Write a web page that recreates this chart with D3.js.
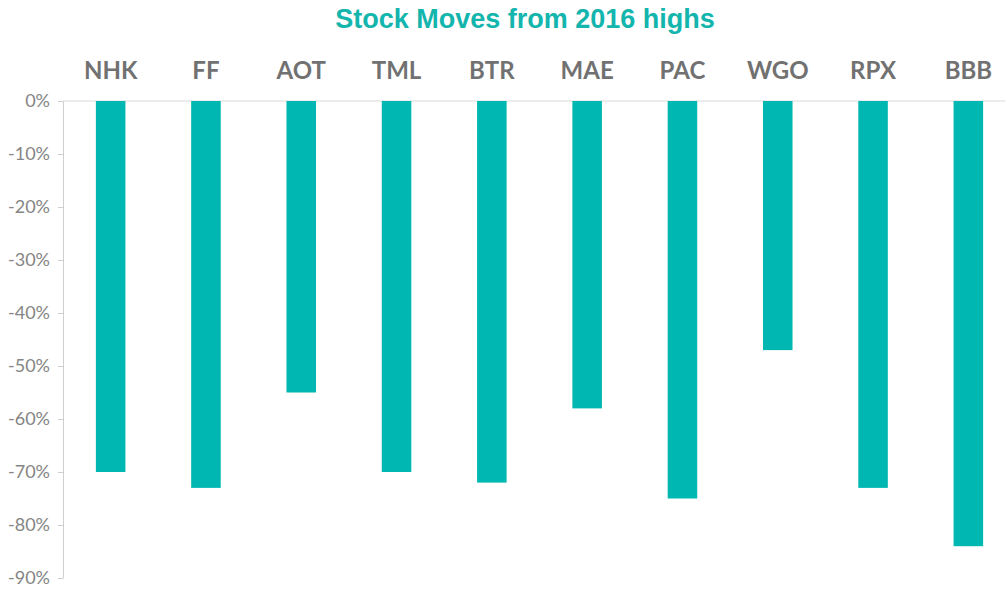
<!DOCTYPE html>
<html lang="en">
<head>
<meta charset="UTF-8">
<title>Stock Moves from 2016 highs</title>
<style>
body{margin:0;background:#fff;}
.chart text{font-family:Lato,"Open Sans",sans-serif;}
</style>
</head>
<body>
<div class="chart"></div>
<script src="https://d3js.org/d3.v7.min.js"></script>
<script>
var tickers = ['NHK','FF','AOT','TML','BTR','MAE','PAC','WGO','RPX','BBB'];
var moves = [-70,-73,-55,-70,-72,-58,-75,-47,-73,-84];
var yTicks = [0,-10,-20,-30,-40,-50,-60,-70,-80,-90];

var W = 1005, H = 589;
var svg = d3.select('.chart').append('svg')
	.attr('width',W).attr('height',H);

var x = d3.scaleBand()
	.domain(tickers)
	.range([63,1016])
	.paddingInner(0.69)
	.paddingOuter(0.345);

var y = d3.scaleLinear()
	.domain([0,-90])
	.range([101,578]);

// title
svg.append('text')
	.attr('x',525).attr('y',28)
	.attr('text-anchor','middle')
	.style('font-family','"Liberation Sans Narrow","Liberation Sans",Arial,sans-serif')
	.style('font-weight','bold')
	.style('font-size','27px')
	.style('fill','#13b5ad')
	.text('Stock Moves from 2016 highs');

// zero line
svg.append('line')
	.attr('x1',63).attr('x2',W)
	.attr('y1',y(0)).attr('y2',y(0))
	.style('stroke','#d9d9d9');

// y axis
var yAxis = d3.axisLeft(y)
	.tickValues(yTicks)
	.tickFormat(d => d + '%')
	.tickSizeInner(5)
	.tickSizeOuter(0)
	.tickPadding(8);
var ga = svg.append('g')
	.attr('transform','translate(63,0)')
	.call(yAxis);
ga.select('.domain').style('stroke','#cfcfcf');
ga.selectAll('.tick line').style('stroke','#cfcfcf');
ga.selectAll('.tick text')
	.style('font-family','Lato,sans-serif')
	.style('font-size','18px')
	.style('fill','#858585');

// bars
svg.selectAll('.bar')
	.data(moves)
	.enter().append('rect')
	.attr('class','bar')
	.attr('x',(d,i) => x(tickers[i]))
	.attr('width',x.bandwidth())
	.attr('y',y(0))
	.attr('height',d => y(d) - y(0))
	.style('fill','#00b8b1');

// category labels on top
svg.selectAll('.cat')
	.data(tickers)
	.enter().append('text')
	.attr('class','cat')
	.attr('x',d => x(d) + x.bandwidth()/2)
	.attr('y',79)
	.attr('text-anchor','middle')
	.style('font-family','Lato,sans-serif')
	.style('font-size','24px')
	.style('font-weight','bold')
	.style('fill','#717171')
	.text(d => d);
</script>
</body>
</html>
